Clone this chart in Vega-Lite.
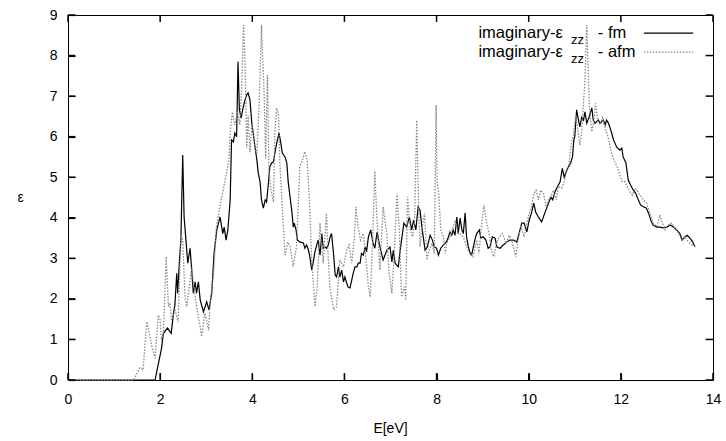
{
  "$schema": "https://vega.github.io/schema/vega-lite/v6.json",
  "autosize": {"type": "none"},
  "width": 645,
  "height": 365,
  "padding": {"left": 68, "top": 15, "right": 13, "bottom": 61},
  "background": "white",
  "config": {
    "view": {"stroke": "black", "strokeWidth": 1},
    "font": "Liberation Sans",
    "axis": {
      "domain": false, "grid": false,
      "labelFont": "Liberation Sans", "labelFontSize": 14, "labelColor": "black",
      "titleFont": "Liberation Sans", "titleFontSize": 14, "titleFontWeight": "normal", "titleColor": "black"
    }
  },
  "datasets": {
    "fm": [
      {"E":0,"eps":0},{"E":1.89,"eps":0},{"E":2.03,"eps":0.78},{"E":2.07,"eps":1.15},{"E":2.16,"eps":1.28},{"E":2.24,"eps":1.15},{"E":2.29,"eps":1.65},{"E":2.32,"eps":1.85},{"E":2.36,"eps":2.63},{"E":2.38,"eps":2.14},{"E":2.42,"eps":2.96},{"E":2.45,"eps":3.45},{"E":2.49,"eps":5.55},{"E":2.52,"eps":4.02},{"E":2.56,"eps":3.45},{"E":2.6,"eps":2.88},{"E":2.65,"eps":3.25},{"E":2.68,"eps":2.79},{"E":2.72,"eps":2.14},{"E":2.76,"eps":2.42},{"E":2.79,"eps":2.14},{"E":2.83,"eps":2.42},{"E":2.87,"eps":1.97},{"E":2.94,"eps":1.68},{"E":3.01,"eps":1.93},{"E":3.06,"eps":1.73},{"E":3.12,"eps":2.14},{"E":3.17,"eps":3.12},{"E":3.23,"eps":3.7},{"E":3.3,"eps":4.02},{"E":3.36,"eps":3.61},{"E":3.39,"eps":3.77},{"E":3.43,"eps":3.45},{"E":3.47,"eps":3.7},{"E":3.52,"eps":4.44},{"E":3.55,"eps":5.92},{"E":3.59,"eps":5.87},{"E":3.62,"eps":6.09},{"E":3.66,"eps":6.0},{"E":3.69,"eps":7.85},{"E":3.72,"eps":6.66},{"E":3.76,"eps":6.46},{"E":3.79,"eps":6.66},{"E":3.84,"eps":6.9},{"E":3.88,"eps":7.03},{"E":3.91,"eps":7.08},{"E":3.95,"eps":6.9},{"E":3.99,"eps":6.33},{"E":4.02,"eps":6.09},{"E":4.06,"eps":5.74},{"E":4.1,"eps":5.42},{"E":4.13,"eps":5.1},{"E":4.17,"eps":4.88},{"E":4.2,"eps":4.44},{"E":4.24,"eps":4.24},{"E":4.28,"eps":4.44},{"E":4.31,"eps":4.39},{"E":4.35,"eps":4.85},{"E":4.38,"eps":5.25},{"E":4.42,"eps":5.35},{"E":4.46,"eps":5.38},{"E":4.49,"eps":5.6},{"E":4.53,"eps":5.84},{"E":4.58,"eps":6.09},{"E":4.62,"eps":5.84},{"E":4.65,"eps":5.6},{"E":4.71,"eps":5.5},{"E":4.75,"eps":5.35},{"E":4.78,"eps":4.88},{"E":4.82,"eps":4.51},{"E":4.86,"eps":4.14},{"E":4.89,"eps":3.77},{"E":4.91,"eps":3.87},{"E":4.95,"eps":3.7},{"E":4.98,"eps":3.45},{"E":5.04,"eps":3.4},{"E":5.11,"eps":3.38},{"E":5.14,"eps":3.25},{"E":5.18,"eps":3.33},{"E":5.22,"eps":3.2},{"E":5.25,"eps":3.03},{"E":5.29,"eps":2.71},{"E":5.32,"eps":2.88},{"E":5.36,"eps":3.16},{"E":5.4,"eps":3.33},{"E":5.43,"eps":3.45},{"E":5.47,"eps":3.08},{"E":5.51,"eps":3.61},{"E":5.54,"eps":3.25},{"E":5.58,"eps":3.28},{"E":5.61,"eps":3.25},{"E":5.65,"eps":3.33},{"E":5.69,"eps":3.53},{"E":5.72,"eps":3.61},{"E":5.76,"eps":3.16},{"E":5.8,"eps":2.59},{"E":5.83,"eps":2.54},{"E":5.87,"eps":2.79},{"E":5.9,"eps":2.54},{"E":5.94,"eps":2.71},{"E":5.98,"eps":2.42},{"E":6.01,"eps":2.54},{"E":6.05,"eps":2.39},{"E":6.08,"eps":2.29},{"E":6.12,"eps":2.27},{"E":6.16,"eps":2.47},{"E":6.19,"eps":2.63},{"E":6.23,"eps":2.79},{"E":6.27,"eps":2.79},{"E":6.3,"eps":2.88},{"E":6.34,"eps":2.88},{"E":6.37,"eps":3.12},{"E":6.41,"eps":3.08},{"E":6.45,"eps":3.28},{"E":6.48,"eps":3.16},{"E":6.52,"eps":3.53},{"E":6.57,"eps":3.7},{"E":6.62,"eps":3.38},{"E":6.66,"eps":3.25},{"E":6.71,"eps":3.65},{"E":6.76,"eps":3.33},{"E":6.81,"eps":3.1},{"E":6.84,"eps":2.96},{"E":6.92,"eps":3.2},{"E":6.99,"eps":3.28},{"E":7.03,"eps":2.91},{"E":7.06,"eps":3.2},{"E":7.1,"eps":2.88},{"E":7.17,"eps":2.79},{"E":7.21,"eps":3.2},{"E":7.24,"eps":3.45},{"E":7.29,"eps":3.87},{"E":7.35,"eps":3.77},{"E":7.41,"eps":4.02},{"E":7.46,"eps":3.7},{"E":7.5,"eps":3.94},{"E":7.55,"eps":3.7},{"E":7.6,"eps":4.27},{"E":7.64,"eps":4.19},{"E":7.69,"eps":3.7},{"E":7.75,"eps":3.2},{"E":7.8,"eps":3.28},{"E":7.86,"eps":3.57},{"E":7.91,"eps":3.45},{"E":7.95,"eps":3.28},{"E":8.0,"eps":3.25},{"E":8.04,"eps":3.08},{"E":8.09,"eps":3.25},{"E":8.15,"eps":3.33},{"E":8.21,"eps":3.4},{"E":8.25,"eps":3.5},{"E":8.29,"eps":3.65},{"E":8.33,"eps":3.57},{"E":8.36,"eps":3.7},{"E":8.4,"eps":3.57},{"E":8.44,"eps":4.02},{"E":8.47,"eps":3.61},{"E":8.51,"eps":3.99},{"E":8.55,"eps":3.7},{"E":8.58,"eps":3.61},{"E":8.62,"eps":4.12},{"E":8.65,"eps":3.53},{"E":8.69,"eps":3.28},{"E":8.73,"eps":3.12},{"E":8.76,"eps":3.08},{"E":8.83,"eps":3.45},{"E":8.87,"eps":3.61},{"E":8.93,"eps":3.7},{"E":8.96,"eps":3.5},{"E":9.01,"eps":3.53},{"E":9.07,"eps":3.45},{"E":9.12,"eps":3.25},{"E":9.16,"eps":3.28},{"E":9.21,"eps":3.53},{"E":9.27,"eps":3.5},{"E":9.31,"eps":3.28},{"E":9.38,"eps":3.25},{"E":9.45,"eps":3.33},{"E":9.52,"eps":3.4},{"E":9.59,"eps":3.45},{"E":9.67,"eps":3.45},{"E":9.74,"eps":3.4},{"E":9.77,"eps":3.53},{"E":9.85,"eps":3.87},{"E":9.9,"eps":3.87},{"E":9.96,"eps":3.65},{"E":10.01,"eps":3.94},{"E":10.06,"eps":4.12},{"E":10.11,"eps":4.36},{"E":10.15,"eps":4.14},{"E":10.21,"eps":4.02},{"E":10.28,"eps":3.9},{"E":10.35,"eps":4.12},{"E":10.43,"eps":4.36},{"E":10.48,"eps":4.51},{"E":10.52,"eps":4.44},{"E":10.57,"eps":4.64},{"E":10.62,"eps":4.76},{"E":10.68,"eps":4.88},{"E":10.73,"eps":5.22},{"E":10.77,"eps":5.0},{"E":10.81,"eps":5.13},{"E":10.86,"eps":5.25},{"E":10.91,"eps":5.35},{"E":10.95,"eps":5.5},{"E":10.98,"eps":5.92},{"E":11.0,"eps":6.0},{"E":11.04,"eps":6.66},{"E":11.08,"eps":6.41},{"E":11.11,"eps":6.24},{"E":11.15,"eps":6.48},{"E":11.19,"eps":6.41},{"E":11.22,"eps":6.61},{"E":11.26,"eps":6.33},{"E":11.31,"eps":6.48},{"E":11.37,"eps":6.71},{"E":11.4,"eps":6.41},{"E":11.44,"eps":6.33},{"E":11.51,"eps":6.41},{"E":11.55,"eps":6.33},{"E":11.62,"eps":6.41},{"E":11.66,"eps":6.29},{"E":11.69,"eps":6.41},{"E":11.73,"eps":6.33},{"E":11.76,"eps":6.24},{"E":11.8,"eps":6.09},{"E":11.84,"eps":5.92},{"E":11.91,"eps":5.74},{"E":11.98,"eps":5.67},{"E":12.02,"eps":5.72},{"E":12.05,"eps":5.5},{"E":12.11,"eps":5.35},{"E":12.16,"eps":4.93},{"E":12.21,"eps":4.81},{"E":12.27,"eps":4.68},{"E":12.32,"eps":4.61},{"E":12.38,"eps":4.44},{"E":12.43,"eps":4.31},{"E":12.49,"eps":4.27},{"E":12.55,"eps":4.24},{"E":12.6,"eps":4.12},{"E":12.65,"eps":3.94},{"E":12.7,"eps":3.82},{"E":12.78,"eps":3.77},{"E":12.85,"eps":3.77},{"E":12.92,"eps":3.75},{"E":13.0,"eps":3.77},{"E":13.07,"eps":3.82},{"E":13.14,"eps":3.77},{"E":13.21,"eps":3.7},{"E":13.28,"eps":3.61},{"E":13.33,"eps":3.45},{"E":13.39,"eps":3.53},{"E":13.44,"eps":3.57},{"E":13.5,"eps":3.5},{"E":13.56,"eps":3.4},{"E":13.61,"eps":3.28}
    ],
    "afm": [
      {"E":0,"eps":0},{"E":1.42,"eps":0},{"E":1.45,"eps":0.05},{"E":1.56,"eps":0.3},{"E":1.63,"eps":0.25},{"E":1.71,"eps":1.44},{"E":1.74,"eps":1.31},{"E":1.82,"eps":0.82},{"E":1.89,"eps":0.54},{"E":1.96,"eps":1.6},{"E":2.0,"eps":1.48},{"E":2.03,"eps":0.99},{"E":2.07,"eps":1.16},{"E":2.13,"eps":3.04},{"E":2.18,"eps":1.81},{"E":2.21,"eps":1.9},{"E":2.25,"eps":1.48},{"E":2.32,"eps":1.73},{"E":2.39,"eps":1.44},{"E":2.45,"eps":3.53},{"E":2.49,"eps":3.45},{"E":2.54,"eps":2.05},{"E":2.58,"eps":1.81},{"E":2.65,"eps":2.47},{"E":2.69,"eps":2.79},{"E":2.72,"eps":2.39},{"E":2.79,"eps":1.81},{"E":2.87,"eps":1.31},{"E":2.9,"eps":1.07},{"E":2.97,"eps":1.65},{"E":3.02,"eps":1.4},{"E":3.05,"eps":1.23},{"E":3.09,"eps":1.97},{"E":3.16,"eps":2.63},{"E":3.22,"eps":3.78},{"E":3.3,"eps":4.3},{"E":3.37,"eps":4.7},{"E":3.44,"eps":5.1},{"E":3.49,"eps":5.4},{"E":3.52,"eps":6.11},{"E":3.57,"eps":6.61},{"E":3.62,"eps":6.29},{"E":3.68,"eps":6.61},{"E":3.73,"eps":6.29},{"E":3.77,"eps":7.2},{"E":3.81,"eps":8.75},{"E":3.84,"eps":7.94},{"E":3.88,"eps":5.72},{"E":3.91,"eps":6.53},{"E":3.95,"eps":5.62},{"E":3.99,"eps":6.29},{"E":4.06,"eps":5.72},{"E":4.1,"eps":5.55},{"E":4.15,"eps":6.85},{"E":4.2,"eps":8.75},{"E":4.26,"eps":6.95},{"E":4.29,"eps":5.47},{"E":4.33,"eps":7.52},{"E":4.36,"eps":5.23},{"E":4.4,"eps":4.73},{"E":4.46,"eps":4.39},{"E":4.49,"eps":6.11},{"E":4.53,"eps":6.71},{"E":4.57,"eps":6.53},{"E":4.6,"eps":5.3},{"E":4.64,"eps":4.49},{"E":4.71,"eps":3.08},{"E":4.77,"eps":3.4},{"E":4.82,"eps":3.3},{"E":4.89,"eps":2.79},{"E":4.96,"eps":3.29},{"E":5.0,"eps":4.36},{"E":5.03,"eps":5.26},{"E":5.09,"eps":5.42},{"E":5.14,"eps":5.63},{"E":5.19,"eps":5.42},{"E":5.24,"eps":4.44},{"E":5.29,"eps":2.96},{"E":5.36,"eps":1.81},{"E":5.41,"eps":2.3},{"E":5.47,"eps":3.87},{"E":5.51,"eps":3.29},{"E":5.54,"eps":2.88},{"E":5.61,"eps":4.11},{"E":5.65,"eps":2.96},{"E":5.69,"eps":2.22},{"E":5.77,"eps":1.73},{"E":5.83,"eps":1.81},{"E":5.9,"eps":2.96},{"E":5.98,"eps":2.79},{"E":6.05,"eps":3.2},{"E":6.1,"eps":3.33},{"E":6.16,"eps":2.88},{"E":6.21,"eps":3.45},{"E":6.25,"eps":4.27},{"E":6.3,"eps":3.74},{"E":6.35,"eps":3.45},{"E":6.41,"eps":3.61},{"E":6.47,"eps":2.96},{"E":6.52,"eps":2.3},{"E":6.56,"eps":2.05},{"E":6.61,"eps":3.37},{"E":6.66,"eps":5.15},{"E":6.7,"eps":4.1},{"E":6.77,"eps":2.71},{"E":6.84,"eps":4.27},{"E":6.92,"eps":3.61},{"E":6.97,"eps":2.63},{"E":7.03,"eps":2.14},{"E":7.09,"eps":3.29},{"E":7.14,"eps":4.6},{"E":7.19,"eps":3.7},{"E":7.24,"eps":2.05},{"E":7.3,"eps":2.3},{"E":7.33,"eps":1.97},{"E":7.37,"eps":4.52},{"E":7.43,"eps":3.7},{"E":7.48,"eps":3.53},{"E":7.52,"eps":3.87},{"E":7.57,"eps":6.41},{"E":7.61,"eps":4.27},{"E":7.64,"eps":3.29},{"E":7.69,"eps":3.78},{"E":7.74,"eps":4.11},{"E":7.79,"eps":2.96},{"E":7.84,"eps":3.2},{"E":7.9,"eps":3.37},{"E":7.95,"eps":3.12},{"E":7.99,"eps":6.78},{"E":8.01,"eps":4.93},{"E":8.05,"eps":4.52},{"E":8.09,"eps":3.7},{"E":8.15,"eps":3.53},{"E":8.19,"eps":3.12},{"E":8.22,"eps":3.37},{"E":8.29,"eps":3.53},{"E":8.36,"eps":3.78},{"E":8.41,"eps":3.94},{"E":8.47,"eps":3.61},{"E":8.51,"eps":3.6},{"E":8.58,"eps":3.53},{"E":8.65,"eps":3.29},{"E":8.72,"eps":3.12},{"E":8.79,"eps":3.04},{"E":8.87,"eps":3.45},{"E":8.92,"eps":3.12},{"E":8.98,"eps":3.87},{"E":9.03,"eps":4.31},{"E":9.09,"eps":3.87},{"E":9.14,"eps":3.61},{"E":9.19,"eps":3.2},{"E":9.24,"eps":3.04},{"E":9.3,"eps":3.37},{"E":9.36,"eps":3.53},{"E":9.43,"eps":3.61},{"E":9.51,"eps":3.37},{"E":9.58,"eps":3.57},{"E":9.65,"eps":3.37},{"E":9.72,"eps":3.04},{"E":9.77,"eps":3.45},{"E":9.83,"eps":3.78},{"E":9.9,"eps":3.53},{"E":9.96,"eps":3.87},{"E":10.01,"eps":4.11},{"E":10.06,"eps":4.27},{"E":10.11,"eps":4.6},{"E":10.16,"eps":4.68},{"E":10.21,"eps":4.44},{"E":10.26,"eps":4.68},{"E":10.32,"eps":4.6},{"E":10.38,"eps":4.27},{"E":10.43,"eps":4.44},{"E":10.48,"eps":4.52},{"E":10.54,"eps":4.68},{"E":10.6,"eps":4.44},{"E":10.64,"eps":4.77},{"E":10.72,"eps":4.73},{"E":10.77,"eps":4.89},{"E":10.82,"eps":5.14},{"E":10.87,"eps":5.3},{"E":10.92,"eps":5.79},{"E":10.97,"eps":6.04},{"E":11.02,"eps":6.53},{"E":11.06,"eps":6.21},{"E":11.11,"eps":5.79},{"E":11.15,"eps":6.12},{"E":11.19,"eps":6.86},{"E":11.22,"eps":7.36},{"E":11.26,"eps":8.75},{"E":11.28,"eps":8.01},{"E":11.32,"eps":6.7},{"E":11.37,"eps":6.12},{"E":11.42,"eps":6.46},{"E":11.45,"eps":6.82},{"E":11.5,"eps":6.37},{"E":11.55,"eps":6.29},{"E":11.6,"eps":6.46},{"E":11.66,"eps":6.21},{"E":11.71,"eps":6.04},{"E":11.76,"eps":5.79},{"E":11.81,"eps":5.55},{"E":11.87,"eps":5.38},{"E":11.93,"eps":5.23},{"E":11.98,"eps":5.05},{"E":12.03,"eps":4.89},{"E":12.09,"eps":4.89},{"E":12.15,"eps":4.73},{"E":12.2,"eps":4.64},{"E":12.25,"eps":4.56},{"E":12.31,"eps":4.73},{"E":12.37,"eps":4.64},{"E":12.42,"eps":4.55},{"E":12.49,"eps":4.45},{"E":12.56,"eps":4.36},{"E":12.63,"eps":4.11},{"E":12.7,"eps":3.87},{"E":12.78,"eps":3.78},{"E":12.85,"eps":4.07},{"E":12.88,"eps":3.94},{"E":12.96,"eps":3.7},{"E":13.03,"eps":3.82},{"E":13.1,"eps":3.87},{"E":13.17,"eps":3.75},{"E":13.25,"eps":3.62},{"E":13.32,"eps":3.45},{"E":13.39,"eps":3.53},{"E":13.46,"eps":3.41},{"E":13.54,"eps":3.33},{"E":13.61,"eps":3.29}
    ],
    "xticks": [{"v":0},{"v":2},{"v":4},{"v":6},{"v":8},{"v":10},{"v":12},{"v":14}],
    "yticks": [{"v":0},{"v":1},{"v":2},{"v":3},{"v":4},{"v":5},{"v":6},{"v":7},{"v":8},{"v":9}],
    "one": [{"k": 1}]
  },
  "layer": [
    {
      "data": {"name": "fm"},
      "mark": {"type": "line", "color": "black", "strokeWidth": 1.2, "interpolate": "linear"},
      "encoding": {
        "x": {"field": "E", "type": "quantitative", "scale": {"domain": [0, 14], "nice": false},
              "axis": {"orient": "bottom", "values": [0,2,4,6,8,10,12,14], "title": "E[eV]", "labelPadding": 19,
                       "ticks": true, "tickSize": -7, "tickColor": "black", "tickWidth": 1.2,
                       "titleX": 322, "titleY": 48, "titleBaseline": "middle", "titleAlign": "center", "labelFlush": false}},
        "y": {"field": "eps", "type": "quantitative", "scale": {"domain": [0, 9], "nice": false},
              "axis": {"orient": "left", "values": [0,1,2,3,4,5,6,7,8,9], "title": "ε", "labelPadding": 18,
                       "ticks": true, "tickSize": -7, "tickColor": "black", "tickWidth": 1.2,
                       "titleAngle": 0, "titleX": -48, "titleY": 182, "titleBaseline": "middle", "titleAlign": "center"}}
      }
    },
    {
      "data": {"name": "afm"},
      "mark": {"type": "line", "color": "#8a8a8a", "strokeWidth": 1.3, "strokeDash": [1.5, 1.5], "interpolate": "linear"},
      "encoding": {
        "x": {"field": "E", "type": "quantitative"},
        "y": {"field": "eps", "type": "quantitative"}
      }
    },
    {
      "data": {"name": "xticks"},
      "mark": {"type": "rule", "color": "black", "strokeWidth": 1.5},
      "encoding": {"x": {"field": "v", "type": "quantitative"}, "y": {"datum": 0, "type": "quantitative"}, "y2": {"datum": 0.17}}
    },
    {
      "data": {"name": "xticks"},
      "mark": {"type": "rule", "color": "black", "strokeWidth": 1.5},
      "encoding": {"x": {"field": "v", "type": "quantitative"}, "y": {"datum": 9, "type": "quantitative"}, "y2": {"datum": 8.83}}
    },
    {
      "data": {"name": "yticks"},
      "mark": {"type": "rule", "color": "black", "strokeWidth": 1.5},
      "encoding": {"y": {"field": "v", "type": "quantitative"}, "x": {"datum": 0, "type": "quantitative"}, "x2": {"datum": 0.16}}
    },
    {
      "data": {"name": "yticks"},
      "mark": {"type": "rule", "color": "black", "strokeWidth": 1.5},
      "encoding": {"y": {"field": "v", "type": "quantitative"}, "x": {"datum": 14, "type": "quantitative"}, "x2": {"datum": 13.84}}
    },
    {
      "data": {"name": "one"},
      "mark": {"type": "rule", "color": "black", "strokeWidth": 1.2},
      "encoding": {"x": {"datum": 12.5, "type": "quantitative"}, "x2": {"datum": 13.57}, "y": {"datum": 8.555, "type": "quantitative"}}
    },
    {
      "data": {"name": "one"},
      "mark": {"type": "rule", "color": "#8a8a8a", "strokeWidth": 1.3, "strokeDash": [1.5, 1.5]},
      "encoding": {"x": {"datum": 12.5, "type": "quantitative"}, "x2": {"datum": 13.57}, "y": {"datum": 8.087, "type": "quantitative"}}
    },
    {
      "data": {"name": "one"},
      "mark": {"type": "text", "align": "right", "baseline": "middle", "fontSize": 16.5, "font": "Liberation Sans", "color": "black"},
      "encoding": {"x": {"datum": 10.74, "type": "quantitative"}, "y": {"datum": 8.555, "type": "quantitative"}, "text": {"value": "imaginary-ε"}}
    },
    {
      "data": {"name": "one"},
      "mark": {"type": "text", "align": "right", "baseline": "middle", "fontSize": 16.5, "font": "Liberation Sans", "color": "black"},
      "encoding": {"x": {"datum": 10.74, "type": "quantitative"}, "y": {"datum": 8.087, "type": "quantitative"}, "text": {"value": "imaginary-ε"}}
    },
    {
      "data": {"name": "one"},
      "mark": {"type": "text", "align": "left", "baseline": "middle", "fontSize": 13, "font": "Liberation Sans", "color": "black", "dy": 7},
      "encoding": {"x": {"datum": 10.92, "type": "quantitative"}, "y": {"datum": 8.555, "type": "quantitative"}, "text": {"value": "zz"}}
    },
    {
      "data": {"name": "one"},
      "mark": {"type": "text", "align": "left", "baseline": "middle", "fontSize": 13, "font": "Liberation Sans", "color": "black", "dy": 7},
      "encoding": {"x": {"datum": 10.92, "type": "quantitative"}, "y": {"datum": 8.087, "type": "quantitative"}, "text": {"value": "zz"}}
    },
    {
      "data": {"name": "one"},
      "mark": {"type": "text", "align": "left", "baseline": "middle", "fontSize": 16.5, "font": "Liberation Sans", "color": "black"},
      "encoding": {"x": {"datum": 11.5, "type": "quantitative"}, "y": {"datum": 8.555, "type": "quantitative"}, "text": {"value": "- fm"}}
    },
    {
      "data": {"name": "one"},
      "mark": {"type": "text", "align": "left", "baseline": "middle", "fontSize": 16.5, "font": "Liberation Sans", "color": "black"},
      "encoding": {"x": {"datum": 11.5, "type": "quantitative"}, "y": {"datum": 8.087, "type": "quantitative"}, "text": {"value": "- afm"}}
    }
  ]
}
